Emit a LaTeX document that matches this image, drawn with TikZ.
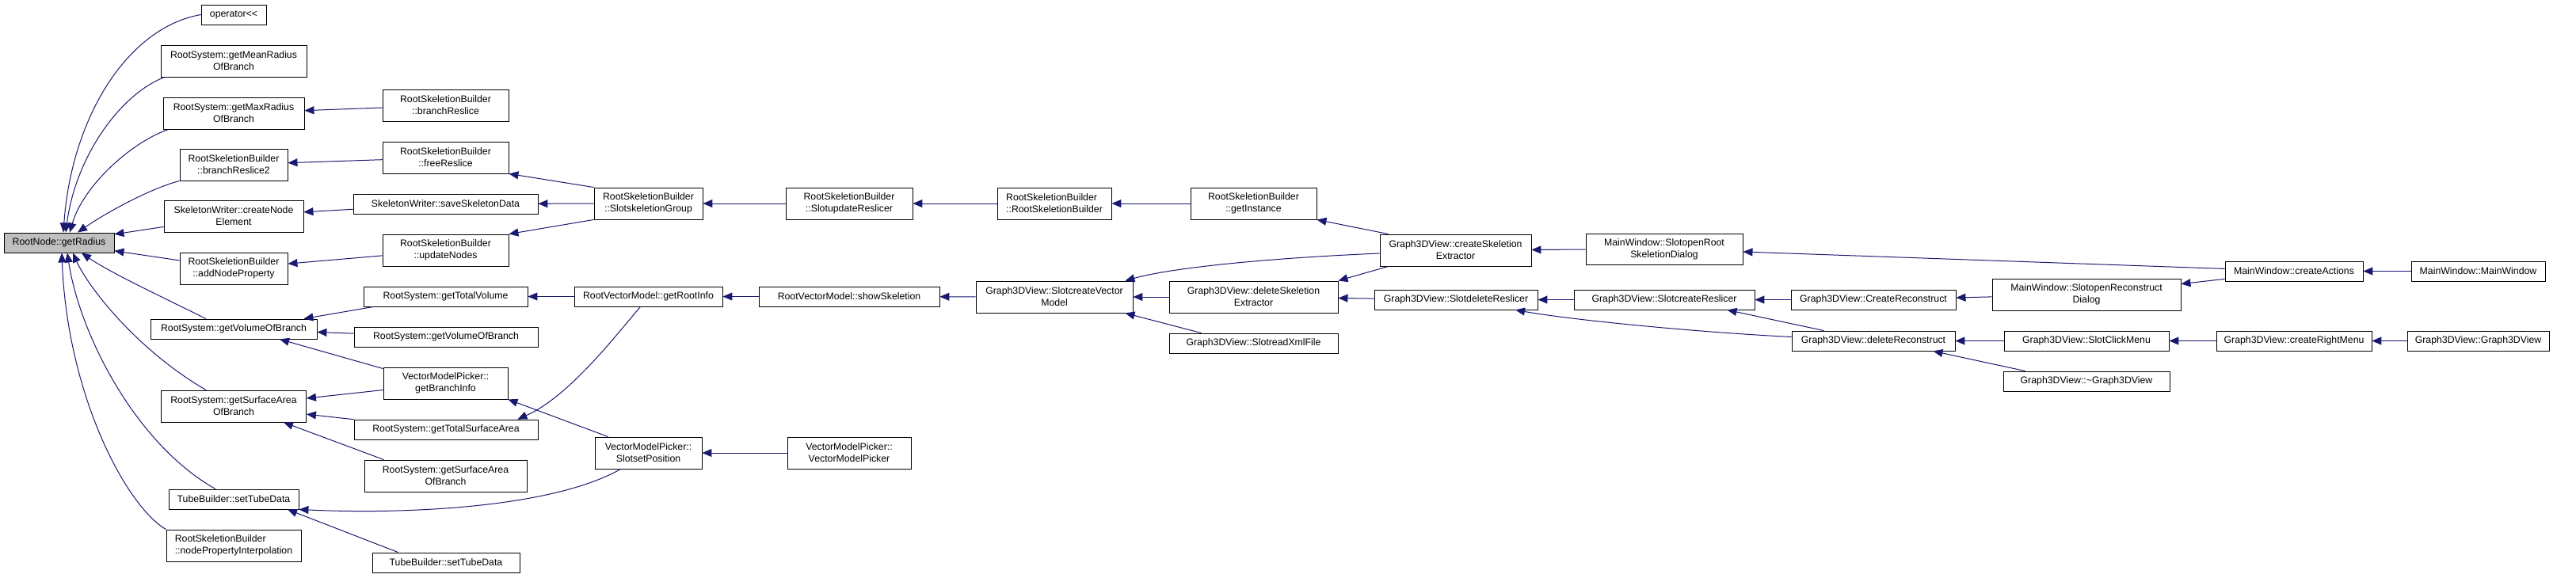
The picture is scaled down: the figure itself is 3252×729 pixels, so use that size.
\documentclass[tikz,border=0pt]{standalone}
\usepackage{fontspec}
\setmainfont{Liberation Sans}
\usetikzlibrary{arrows.meta}

\definecolor{edgeblue}{HTML}{191970}
\definecolor{focusgray}{HTML}{BFBFBF}

\tikzset{
    fn/.style={draw=black, line width=0.9pt, fill=white, minimum height=25, inner xsep=2pt, inner ysep=0pt,
        font=\fontsize{12.3pt}{15pt}\selectfont, align=center},
    fntwo/.style={fn, minimum height=40},
    calledge/.style={{Triangle[length=12pt,width=10pt]}-, draw=edgeblue, line width=1pt},
}

\begin{document}
\begin{tikzpicture}[x=1pt, y=-1pt]
    \useasboundingbox (0,0) rectangle (3252,729);

    % Function under inspection
    \node[fn, fill=focusgray, minimum width=139] (getRadius) at (74.5,306.5) {RootNode::getRadius};

    % Direct callers
    \node[fn, minimum width=82] (opShift) at (295,18.5) {operator<{}<};
    \node[fntwo, minimum width=184] (meanRadius) at (295,77) {RootSystem::getMeanRadius\\OfBranch};
    \node[fntwo, minimum width=178] (maxRadius) at (295,143) {RootSystem::getMaxRadius\\OfBranch};
    \node[fntwo, minimum width=136] (reslice2) at (295,208) {RootSkeletionBuilder\\::branchReslice2};
    \node[fntwo, minimum width=176] (createNodeElem) at (295,273) {SkeletonWriter::createNode\\Element};
    \node[fntwo, minimum width=136] (addNodeProp) at (295,339) {RootSkeletionBuilder\\::addNodeProperty};
    \node[fn, minimum width=210] (volBranch) at (295,415.5) {RootSystem::getVolumeOfBranch};
    \node[fntwo, minimum width=183] (surfBranch) at (295,513) {RootSystem::getSurfaceArea\\OfBranch};
    \node[fn, minimum width=164] (setTube) at (295,630.5) {TubeBuilder::setTubeData};
    \node[fntwo, minimum width=170, align=left] (nodeInterp) at (295,689) {RootSkeletionBuilder\\::nodePropertyInterpolation};

    % Second level
    \node[fntwo, minimum width=159] (reslice) at (562.5,133) {RootSkeletionBuilder\\::branchReslice};
    \node[fntwo, minimum width=159] (freeReslice) at (562.5,199) {RootSkeletionBuilder\\::freeReslice};
    \node[fn, minimum width=233] (saveSkel) at (562.5,257.5) {SkeletonWriter::saveSkeletonData};
    \node[fntwo, minimum width=159] (updateNodes) at (562.5,316) {RootSkeletionBuilder\\::updateNodes};
    \node[fn, minimum width=207] (totalVol) at (562.5,374.5) {RootSystem::getTotalVolume};
    \node[fn, minimum width=232] (volBranchB) at (563,425.5) {RootSystem::getVolumeOfBranch};
    \node[fntwo, minimum width=157] (branchInfo) at (562.5,484) {VectorModelPicker::\\getBranchInfo};
    \node[fn, minimum width=232] (totalSurf) at (563,542.5) {RootSystem::getTotalSurfaceArea};
    \node[fntwo, minimum width=205] (surfBranchB) at (562.5,601) {RootSystem::getSurfaceArea\\OfBranch};
    \node[fn, minimum width=186] (setTubeB) at (563,710.5) {TubeBuilder::setTubeData};

    % Third level
    \node[fntwo, minimum width=137] (skelGroup) at (818.5,257) {RootSkeletionBuilder\\::SlotskeletionGroup};
    \node[fn, minimum width=187] (rootInfo) at (818.5,374.5) {RootVectorModel::getRootInfo};
    \node[fntwo, minimum width=135] (setPosition) at (818.5,572) {VectorModelPicker::\\SlotsetPosition};

    % Fourth level
    \node[fntwo, minimum width=160] (updateReslicer) at (1072,257) {RootSkeletionBuilder\\::SlotupdateReslicer};
    \node[fn, minimum width=228] (showSkel) at (1072,374.5) {RootVectorModel::showSkeletion};
    \node[fntwo, minimum width=156] (pickerCtor) at (1072,572) {VectorModelPicker::\\VectorModelPicker};

    % Fifth and sixth level
    \node[fntwo, minimum width=144, align=left] (rsbCtor) at (1331,257) {RootSkeletionBuilder\\::RootSkeletionBuilder};
    \node[fntwo, minimum width=198] (createVecModel) at (1331,375) {Graph3DView::SlotcreateVector\\Model};
    \node[fntwo, minimum width=159] (getInstance) at (1582.5,257) {RootSkeletionBuilder\\::getInstance};
    \node[fntwo, minimum width=213] (delSkelExt) at (1582.5,375) {Graph3DView::deleteSkeletion\\Extractor};
    \node[fn, minimum width=213] (readXml) at (1582.5,433.5) {Graph3DView::SlotreadXmlFile};

    % Seventh and eighth level
    \node[fntwo, minimum width=191] (createSkelExt) at (1837.5,316) {Graph3DView::createSkeletion\\Extractor};
    \node[fn, minimum width=206] (delReslicer) at (1838,378.5) {Graph3DView::SlotdeleteReslicer};
    \node[fntwo, minimum width=198, minimum height=39] (openRootDlg) at (2101,314.5) {MainWindow::SlotopenRoot\\SkeletionDialog};
    \node[fn, minimum width=228] (createReslicer) at (2101,378.5) {Graph3DView::SlotcreateReslicer};

    % Ninth and tenth level
    \node[fn, minimum width=208] (createRecon) at (2365,378.5) {Graph3DView::CreateReconstruct};
    \node[fn, minimum width=206] (deleteRecon) at (2365,430.5) {Graph3DView::deleteReconstruct};
    \node[fntwo, minimum width=238] (openReconDlg) at (2634,372) {MainWindow::SlotopenReconstruct\\Dialog};
    \node[fn, minimum width=208] (clickMenu) at (2634,430.5) {Graph3DView::SlotClickMenu};
    \node[fn, minimum width=210] (g3dDtor) at (2634,481.5) {Graph3DView::\textasciitilde Graph3DView};

    % Last levels
    \node[fn, minimum width=174] (createActions) at (2896,342.5) {MainWindow::createActions};
    \node[fn, minimum width=196] (rightMenu) at (2896,430.5) {Graph3DView::createRightMenu};
    \node[fn, minimum width=169] (mainWindow) at (3128.5,342.5) {MainWindow::MainWindow};
    \node[fn, minimum width=179] (g3dCtor) at (3128.5,430.5) {Graph3DView::Graph3DView};

    % Edges into getRadius
    \draw[calledge] ([xshift=5.5pt]getRadius.north) .. controls (90,150) and (160,35) .. (opShift.west);
    \draw[calledge] ([xshift=8.5pt]getRadius.north) .. controls (95,200) and (150,120) .. ([xshift=5pt]meanRadius.south west);
    \draw[calledge] ([xshift=13.5pt]getRadius.north) .. controls (105,235) and (165,180) .. ([xshift=7pt]maxRadius.south west);
    \draw[calledge] ([xshift=23.5pt]getRadius.north) .. controls (135,268) and (190,238) .. (reslice2.south west);
    \draw[calledge] (getRadius) -- (createNodeElem);
    \draw[calledge] (getRadius) -- (addNodeProp);
    \draw[calledge] ([xshift=28.5pt]getRadius.south) .. controls (140,345) and (215,380) .. ([xshift=-35pt]volBranch.north);
    \draw[calledge] ([xshift=17.5pt]getRadius.south) .. controls (110,360) and (170,440) .. ([xshift=-35pt]surfBranch.north);
    \draw[calledge] ([xshift=10.5pt]getRadius.south) .. controls (100,420) and (170,560) .. ([xshift=-23pt]setTube.north);
    \draw[calledge] ([xshift=3.5pt]getRadius.south) .. controls (85,500) and (160,640) .. (nodeInterp.north west);

    % Edges of the second level
    \draw[calledge] (maxRadius) -- (reslice);
    \draw[calledge] (reslice2) -- (freeReslice);
    \draw[calledge] (createNodeElem) -- (saveSkel);
    \draw[calledge] (addNodeProp) -- (updateNodes);
    \draw[calledge] ([xshift=-17pt]volBranch.north east) -- ([xshift=13pt]totalVol.south west);
    \draw[calledge] (volBranch) -- (volBranchB);
    \draw[calledge] ([xshift=58pt]volBranch.south) -- ([yshift=-2pt]branchInfo.north west);
    \draw[calledge] (surfBranch) -- (branchInfo);
    \draw[calledge] (surfBranch) -- (totalSurf);
    \draw[calledge] ([xshift=63pt]surfBranch.south) -- ([xshift=25pt]surfBranchB.north west);
    \draw[calledge] (setTube.south east) .. controls (520,650) and (700,640) .. ([xshift=-35pt]setPosition.south);
    \draw[calledge] ([xshift=68pt]setTube.south) -- ([xshift=33pt]setTubeB.north west);

    % Edges further right
    \draw[calledge] (freeReslice.south east) -- (skelGroup.north west);
    \draw[calledge] (saveSkel) -- (skelGroup);
    \draw[calledge] (updateNodes.north east) -- (skelGroup.south west);
    \draw[calledge] (totalVol) -- (rootInfo);
    \draw[calledge] ([xshift=-26pt]totalSurf.north east) .. controls (720,500) and (780,420) .. ([xshift=-10pt]rootInfo.south);
    \draw[calledge] (branchInfo.south east) -- ([xshift=17pt]setPosition.north west);
    \draw[calledge] (setPosition) -- (pickerCtor);
    \draw[calledge] (skelGroup) -- (updateReslicer);
    \draw[calledge] (rootInfo) -- (showSkel);
    \draw[calledge] (updateReslicer) -- (rsbCtor);
    \draw[calledge] (showSkel) -- (createVecModel);
    \draw[calledge] (rsbCtor) -- (getInstance);
    \draw[calledge] (createVecModel) -- (delSkelExt);
    \draw[calledge] ([xshift=-10pt]createVecModel.south east) -- ([xshift=41pt]readXml.north west);
    \draw[calledge] ([xshift=-10pt]createVecModel.north east) .. controls (1480,338) and (1600,326) .. ([yshift=-4pt]createSkelExt.west);
    \draw[calledge] (getInstance.south east) -- ([xshift=11pt]createSkelExt.north west);
    \draw[calledge] (delSkelExt.north east) -- ([xshift=11pt]createSkelExt.south west);
    \draw[calledge] (delSkelExt) -- (delReslicer);
    \draw[calledge] (createSkelExt) -- (openRootDlg);
    \draw[calledge] (delReslicer) -- (createReslicer);
    \draw[calledge] ([xshift=75pt]delReslicer.south) .. controls (1990,405) and (2150,420) .. ([yshift=5pt]deleteRecon.west);
    \draw[calledge] (createReslicer) -- (createRecon);
    \draw[calledge] ([xshift=-35pt]createReslicer.south east) -- ([xshift=41pt]deleteRecon.north west);
    \draw[calledge] (createRecon) -- (openReconDlg);
    \draw[calledge] (deleteRecon) -- (clickMenu);
    \draw[calledge] ([xshift=-28pt]deleteRecon.south east) -- ([xshift=28pt]g3dDtor.north west);
    \draw[calledge] (openRootDlg) -- (createActions);
    \draw[calledge] (openReconDlg) -- (createActions);
    \draw[calledge] (createActions) -- (mainWindow);
    \draw[calledge] (clickMenu) -- (rightMenu);
    \draw[calledge] (rightMenu) -- (g3dCtor);
\end{tikzpicture}
\end{document}
